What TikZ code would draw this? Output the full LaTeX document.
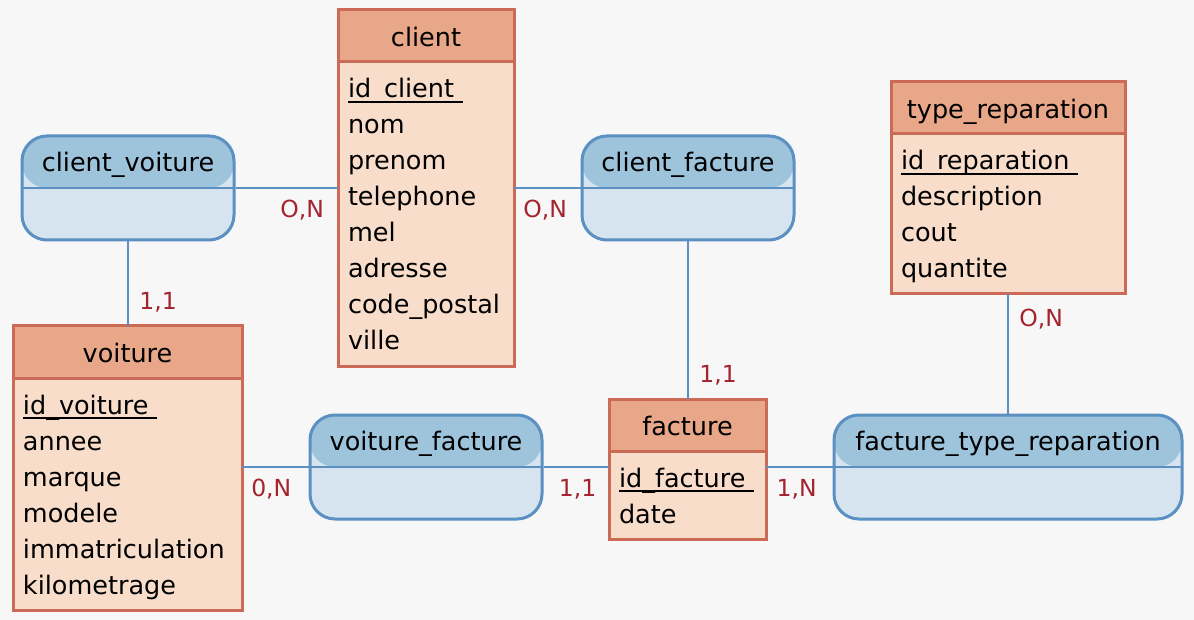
\documentclass[tikz,border=0pt]{standalone}
\usepackage{fontspec}
\setmainfont{DejaVu Sans}
\usepackage{tikz}
\usetikzlibrary{positioning,calc}
\definecolor{enthead}{HTML}{E8A788}
\definecolor{entfill}{HTML}{F8DDCB}
\definecolor{entline}{HTML}{CC6A58}
\definecolor{ashead}{HTML}{9EC4DC}
\definecolor{asfill}{HTML}{D6E4F0}
\definecolor{asline}{HTML}{5A90C2}
\definecolor{cardred}{HTML}{A3242F}
\definecolor{bgcol}{HTML}{F7F7F7}
\newsavebox{\idkeybox}
\newcommand{\idkey}[1]{\rule{0pt}{28pt}\sbox{\idkeybox}{#1\ }\rlap{\rule[-5pt]{\wd\idkeybox}{1.8pt}}\usebox{\idkeybox}}
\newcommand{\lastattr}[1]{#1\rule[-8pt]{0pt}{8pt}}

\begin{document}
\begin{tikzpicture}[x=1pt,y=-1pt,
    every node/.style={font=\fontsize{25.5}{36}\selectfont},
    ehead/.style={draw=entline,line width=3pt,fill=enthead,anchor=north west,outer sep=0pt,
      minimum height=52pt,inner sep=0pt,text height=24pt,text depth=3pt},
    ebody/.style={draw=entline,line width=3pt,fill=entfill,anchor=north west,outer sep=0pt,
      align=left,inner xsep=10pt,inner ysep=8pt},
    assoc/.style={draw=asline,line width=3pt,fill=asfill,rounded corners=25pt,
      minimum height=104pt,inner sep=0pt,
      path picture={
        \fill[ashead] (path picture bounding box.north west) rectangle (path picture bounding box.east);
        \draw[asline,line width=2.6pt] (path picture bounding box.west) -- (path picture bounding box.east);
      }},
    astitle/.style={anchor=base},
    link/.style={draw=asline,line width=2pt},
    cardlbl/.style={text=cardred,font=\fontsize{23.5}{26}\selectfont}
  ]
  \fill[bgcol] (0,0) rectangle (1194,620);
  \useasboundingbox (0,0) rectangle (1194,620);

  % entities
  \node[ehead,minimum width=176pt] (client) at (338,10) {client};
  \node[ebody,text width=156pt] (clientb) at (client.south west)
    {\idkey{id\_client}\\nom\\prenom\\telephone\\mel\\adresse\\code\_postal\\\lastattr{ville}};

  \node[ehead,minimum width=234pt] (tr) at (891,82) {type\_reparation};
  \node[ebody,text width=214pt] (trb) at (tr.south west)
    {\idkey{id\_reparation}\\description\\cout\\\lastattr{quantite}};

  \node[ehead,minimum width=229pt] (voiture) at (13,326) {voiture};
  \node[ebody,text width=209pt] (voitureb) at (voiture.south west)
    {\idkey{id\_voiture}\\annee\\marque\\modele\\immatriculation\\\lastattr{kilometrage}};

  \node[ehead,minimum width=157pt] (facture) at (609,399) {facture};
  \node[ebody,text width=137pt] (factureb) at (facture.south west)
    {\idkey{id\_facture}\\\lastattr{date}};

  % associations
  \node[assoc,minimum width=212pt] (cv) at (128,188) {};
  \node[astitle] (cvt) at ($(cv.north)+(0,37)$) {client\_voiture};
  \node[assoc,minimum width=212pt] (cf) at (688,188) {};
  \node[astitle] (cft) at ($(cf.north)+(0,37)$) {client\_facture};
  \node[assoc,minimum width=232pt] (vf) at (426,467) {};
  \node[astitle] (vft) at ($(vf.north)+(0,37)$) {voiture\_facture};
  \node[assoc,minimum width=348pt] (ftr) at (1008,467) {};
  \node[astitle] (ftrt) at ($(ftr.north)+(0,37)$) {facture\_type\_reparation};

  % links
  \draw[link] (cv.east) -- (cv.east -| clientb.west)
    node[cardlbl,pos=.65,below=8pt] (c1) {O,N};
  \draw[link] (cv.south) -- (cv.south |- voiture.north)
    node[cardlbl,pos=.72,right=7pt] (c2) {1,1};
  \draw[link] (clientb.east |- cf.west) -- (cf.west)
    node[cardlbl,pos=.47,below=8pt] (c3) {O,N};
  \draw[link] (cf.south) -- (cf.south |- facture.north)
    node[cardlbl,pos=.85,right=7pt] (c4) {1,1};
  \draw[link] (trb.south) -- (trb.south |- ftr.north)
    node[cardlbl,pos=.21,right=7pt] (c5) {O,N};
  \draw[link] (voitureb.east |- vf.west) -- (vf.west)
    node[cardlbl,pos=.44,below=8pt] (c6) {0,N};
  \draw[link] (vf.east) -- (vf.east -| factureb.west)
    node[cardlbl,pos=.52,below=8pt] (c7) {1,1};
  \draw[link] (factureb.east |- ftr.west) -- (ftr.west)
    node[cardlbl,pos=.46,below=8pt] (c8) {1,N};
\end{tikzpicture}
\end{document}
